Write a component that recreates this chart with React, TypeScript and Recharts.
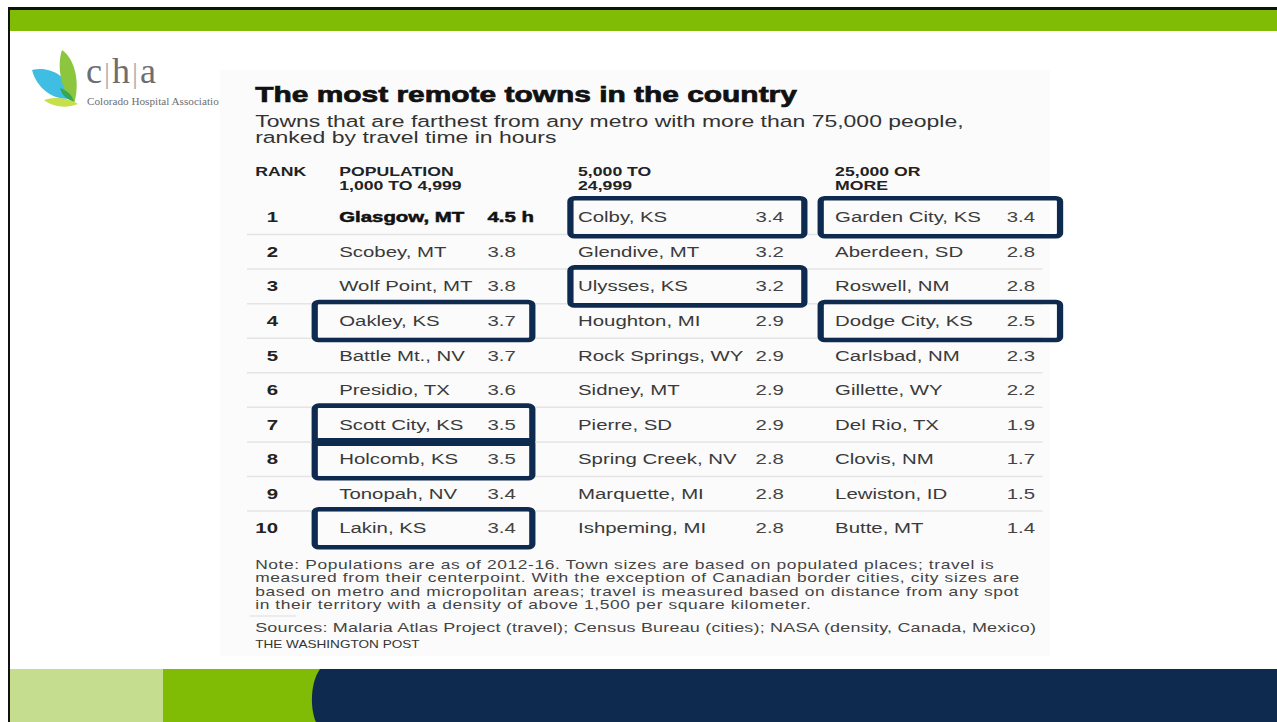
import React from "react";
import {
  ScatterChart,
  Scatter,
  XAxis,
  YAxis,
  ReferenceLine,
} from "recharts";

// table rows: travel time in hours to the nearest metro of 75,000+
const RANKS = [1, 2, 3, 4, 5, 6, 7, 8, 9, 10];

const SMALL_TOWNS = [
  "Glasgow, MT",
  "Scobey, MT",
  "Wolf Point, MT",
  "Oakley, KS",
  "Battle Mt., NV",
  "Presidio, TX",
  "Scott City, KS",
  "Holcomb, KS",
  "Tonopah, NV",
  "Lakin, KS",
];
const SMALL_HOURS = [4.5, 3.8, 3.8, 3.7, 3.7, 3.6, 3.5, 3.5, 3.4, 3.4];

const MID_TOWNS = [
  "Colby, KS",
  "Glendive, MT",
  "Ulysses, KS",
  "Houghton, MI",
  "Rock Springs, WY",
  "Sidney, MT",
  "Pierre, SD",
  "Spring Creek, NV",
  "Marquette, MI",
  "Ishpeming, MI",
];
const MID_HOURS = [3.4, 3.2, 3.2, 2.9, 2.9, 2.9, 2.9, 2.8, 2.8, 2.8];

const LARGE_TOWNS = [
  "Garden City, KS",
  "Aberdeen, SD",
  "Roswell, NM",
  "Dodge City, KS",
  "Carlsbad, NM",
  "Gillette, WY",
  "Del Rio, TX",
  "Clovis, NM",
  "Lewiston, ID",
  "Butte, MT",
];
const LARGE_HOURS = [3.4, 2.8, 2.8, 2.5, 2.3, 2.2, 1.9, 1.7, 1.5, 1.4];

const COLUMN_HEADERS = [
  ["POPULATION", "1,000 TO 4,999"],
  ["5,000 TO", "24,999"],
  ["25,000 OR", "MORE"],
];

// Kansas towns boxed on the slide
const HIGHLIGHTED = [
  "Oakley, KS",
  "Scott City, KS",
  "Holcomb, KS",
  "Lakin, KS",
  "Colby, KS",
  "Ulysses, KS",
  "Garden City, KS",
  "Dodge City, KS",
];

const NOTE_LINES = [
  "Note: Populations are as of 2012-16. Town sizes are based on populated places; travel is",
  "measured from their centerpoint. With the exception of Canadian border cities, city sizes are",
  "based on metro and micropolitan areas; travel is measured based on distance from any spot",
  "in their territory with a density of above 1,500 per square kilometer.",
];

const FONT = "'Liberation Sans', Arial, sans-serif";
const SERIF = "'Liberation Serif', 'DejaVu Serif', serif";
const NAVY = "#0e2a4f";
const GREEN = "#80bb05";
const SX = 1.36; // the pasted graphic is stretched sideways on the slide

// per-column text/box offsets from the column's x (unstretched px)
const COL_STYLE = [
  { nameDx: -62, valueDx: 47, valueAnchor: "start", boxL: -80, boxR: 80 },
  { nameDx: -73.4, valueDx: 78, valueAnchor: "end", boxL: -79, boxR: 93 },
  { nameDx: -71.4, valueDx: 75.6, valueAnchor: "end", boxL: -82, boxR: 94 },
];

const columns = [
  { towns: SMALL_TOWNS, hours: SMALL_HOURS },
  { towns: MID_TOWNS, hours: MID_HOURS },
  { towns: LARGE_TOWNS, hours: LARGE_HOURS },
].map((c, col) =>
  RANKS.map((rank, j) => ({
    col,
    rank,
    name: c.towns[j],
    hours: c.hours[j],
  }))
);

function CellShape(props: any) {
  const { cx, cy, payload } = props;
  const s = COL_STYLE[payload.col];
  const lead = payload.col === 0 && payload.rank === 1;
  const boxed = HIGHLIGHTED.includes(payload.name);
  const heavy = lead ? { stroke: "#111", strokeWidth: 0.5 } : {};
  return (
    <g>
      <text
        x={cx + s.nameDx}
        y={cy + 5}
        fontFamily={FONT}
        fontSize={15}
        fontWeight={lead ? 700 : 400}
        fill={lead ? "#111" : "#3a3a3a"}
        {...heavy}
      >
        {payload.name}
      </text>
      <text
        x={cx + s.valueDx}
        y={cy + 5}
        textAnchor={s.valueAnchor}
        fontFamily={FONT}
        fontSize={15}
        fontWeight={lead ? 700 : 400}
        fill={lead ? "#111" : "#444"}
        {...heavy}
      >
        {payload.hours.toFixed(1) + (lead ? " h" : "")}
      </text>
      {boxed && (
        <rect
          x={cx + s.boxL}
          y={cy - 19}
          width={s.boxR - s.boxL}
          height={38}
          rx={3}
          fill="none"
          stroke={NAVY}
          strokeWidth={4.6}
        />
      )}
    </g>
  );
}

function RankTick(props: any) {
  const { x, y, payload } = props;
  return (
    <text
      x={x + 22.8}
      y={y + 5}
      textAnchor="end"
      fontFamily={FONT}
      fontSize={15}
      fontWeight={700}
      fill="#222"
    >
      {payload.value}
    </text>
  );
}

function HeaderTick(props: any) {
  const { x, y, payload } = props;
  const i = Math.round(payload.value);
  const lines = COLUMN_HEADERS[i];
  if (!lines) return null;
  return (
    <g fontFamily={FONT} fontSize={13} fontWeight={700} fill="#222">
      <text x={x + COL_STYLE[i].nameDx} y={y - 23.5}>
        {lines[0]}
      </text>
      <text x={x + COL_STYLE[i].nameDx} y={y - 9.5}>
        {lines[1]}
      </text>
    </g>
  );
}

function RemoteTownsTable() {
  return (
    <ScatterChart
      width={650}
      height={560}
      margin={{ top: 160, right: 25, bottom: 14.4, left: 0 }}
    >
      <XAxis
        type="number"
        dataKey="col"
        orientation="top"
        domain={[-0.694, 2.434]}
        ticks={[0, 1, 2]}
        height={40}
        axisLine={false}
        tickLine={false}
        tickSize={0}
        tickMargin={0}
        tick={<HeaderTick />}
        interval={0}
      />
      <YAxis
        type="number"
        dataKey="rank"
        domain={[0.5, 10.5]}
        reversed
        ticks={RANKS}
        width={40}
        axisLine={false}
        tickLine={false}
        tickSize={0}
        tickMargin={0}
        tick={<RankTick />}
        interval={0}
      />
      {RANKS.slice(0, 9).map((r) => (
        <ReferenceLine key={r} y={r + 0.5} stroke="#e4e4e4" strokeWidth={1.5} />
      ))}
      {columns.map((data, i) => (
        <Scatter
          key={i}
          data={data}
          shape={<CellShape />}
          isAnimationActive={false}
        />
      ))}
    </ScatterChart>
  );
}

function Logo() {
  return (
    <div style={{ position: "absolute", left: 28, top: 46, width: 200, height: 70 }}>
      <svg width={60} height={64} style={{ position: "absolute", left: 0, top: 0 }}>
        <path d="M4 24 C20 20 40 28 46 52 C30 56 10 46 4 24 Z" fill="#3fbde3" />
        <path d="M34 4 C48 14 52 38 46 58 C34 46 28 22 34 4 Z" fill="#8cc63f" />
        <path d="M32 42 C38 44 44 48 46 56 C40 54 34 50 32 42 Z" fill="#34a853" />
        <path d="M16 54 C26 50 42 52 50 58 C40 62 26 62 16 54 Z" fill="#c6df4a" />
      </svg>
      <div
        style={{
          position: "absolute",
          left: 58,
          top: 7,
          fontFamily: SERIF,
          fontSize: 36,
          lineHeight: "36px",
          color: "#6d6e71",
          letterSpacing: 1,
        }}
      >
        c<span style={{ color: "#b0b0b0", fontSize: 30, margin: "0 1px" }}>|</span>h
        <span style={{ color: "#b0b0b0", fontSize: 30, margin: "0 1px" }}>|</span>a
      </div>
      <div
        style={{
          position: "absolute",
          left: 59,
          top: 49,
          whiteSpace: "nowrap",
          fontFamily: SERIF,
          fontSize: 11.2,
          color: "#6d6e71",
        }}
      >
        Colorado Hospital Associatio
      </div>
    </div>
  );
}

export default function App() {
  return (
    <div
      style={{
        position: "fixed",
        left: 0,
        top: 0,
        width: 1277,
        height: 722,
        background: "#fff",
        overflow: "hidden",
      }}
    >
      {/* slide frame */}
      <div style={{ position: "absolute", left: 8, top: 7, width: 1269, height: 3, background: "#111" }} />
      <div style={{ position: "absolute", left: 10, top: 10, width: 1267, height: 21, background: GREEN }} />
      <div style={{ position: "absolute", left: 8, top: 7, width: 2, height: 715, background: "#111" }} />
      <Logo />
      <div style={{ position: "absolute", left: 220, top: 70, width: 830, height: 586, background: "#fbfbfb" }} />

      {/* the newspaper graphic */}
      <div
        style={{
          position: "absolute",
          left: 247,
          top: 0,
          width: 650,
          height: 722,
          transform: `scaleX(${SX})`,
          transformOrigin: "0 0",
        }}
      >
        <svg width={650} height={722} style={{ position: "absolute", left: 0, top: 0 }}>
          <g fontFamily={FONT}>
            <text x={6} y={102} fontSize={22} fontWeight={700} fill="#111" stroke="#111" strokeWidth={0.7}>
              The most remote towns in the country
            </text>
            <text x={6} y={127} fontSize={16.9} fill="#333">
              Towns that are farthest from any metro with more than 75,000 people,
            </text>
            <text x={6} y={143} fontSize={16.9} fill="#333">
              ranked by travel time in hours
            </text>
            <text x={6} y={176.5} fontSize={13} fontWeight={700} fill="#222">
              RANK
            </text>
            {NOTE_LINES.map((l, i) => (
              <text key={i} x={6} y={569 + i * 13.4} fontSize={12.8} letterSpacing={0.45} fill="#444">
                {l}
              </text>
            ))}
            <line x1={2} x2={36} y1={616} y2={616} stroke="#ddd" strokeWidth={1} />
            <text x={6} y={632.5} fontSize={13.2} letterSpacing={0.15} fill="#444">
              Sources: Malaria Atlas Project (travel); Census Bureau (cities); NASA (density, Canada, Mexico)
            </text>
            <text x={6} y={648} fontSize={10} fill="#333">
              THE WASHINGTON POST
            </text>
          </g>
        </svg>
        <div style={{ position: "absolute", left: -40, top: 0 }}>
          <RemoteTownsTable />
        </div>
      </div>

      {/* bottom band */}
      <div style={{ position: "absolute", left: 10, top: 669, width: 153, height: 53, background: "#c4dd8f" }} />
      <div style={{ position: "absolute", left: 163, top: 669, width: 160, height: 53, background: GREEN }} />
      <svg width={970} height={53} style={{ position: "absolute", left: 310, top: 669 }}>
        <path d="M10 0 C0 14 0 40 6 53 L970 53 L970 0 Z" fill={NAVY} />
      </svg>
    </div>
  );
}
